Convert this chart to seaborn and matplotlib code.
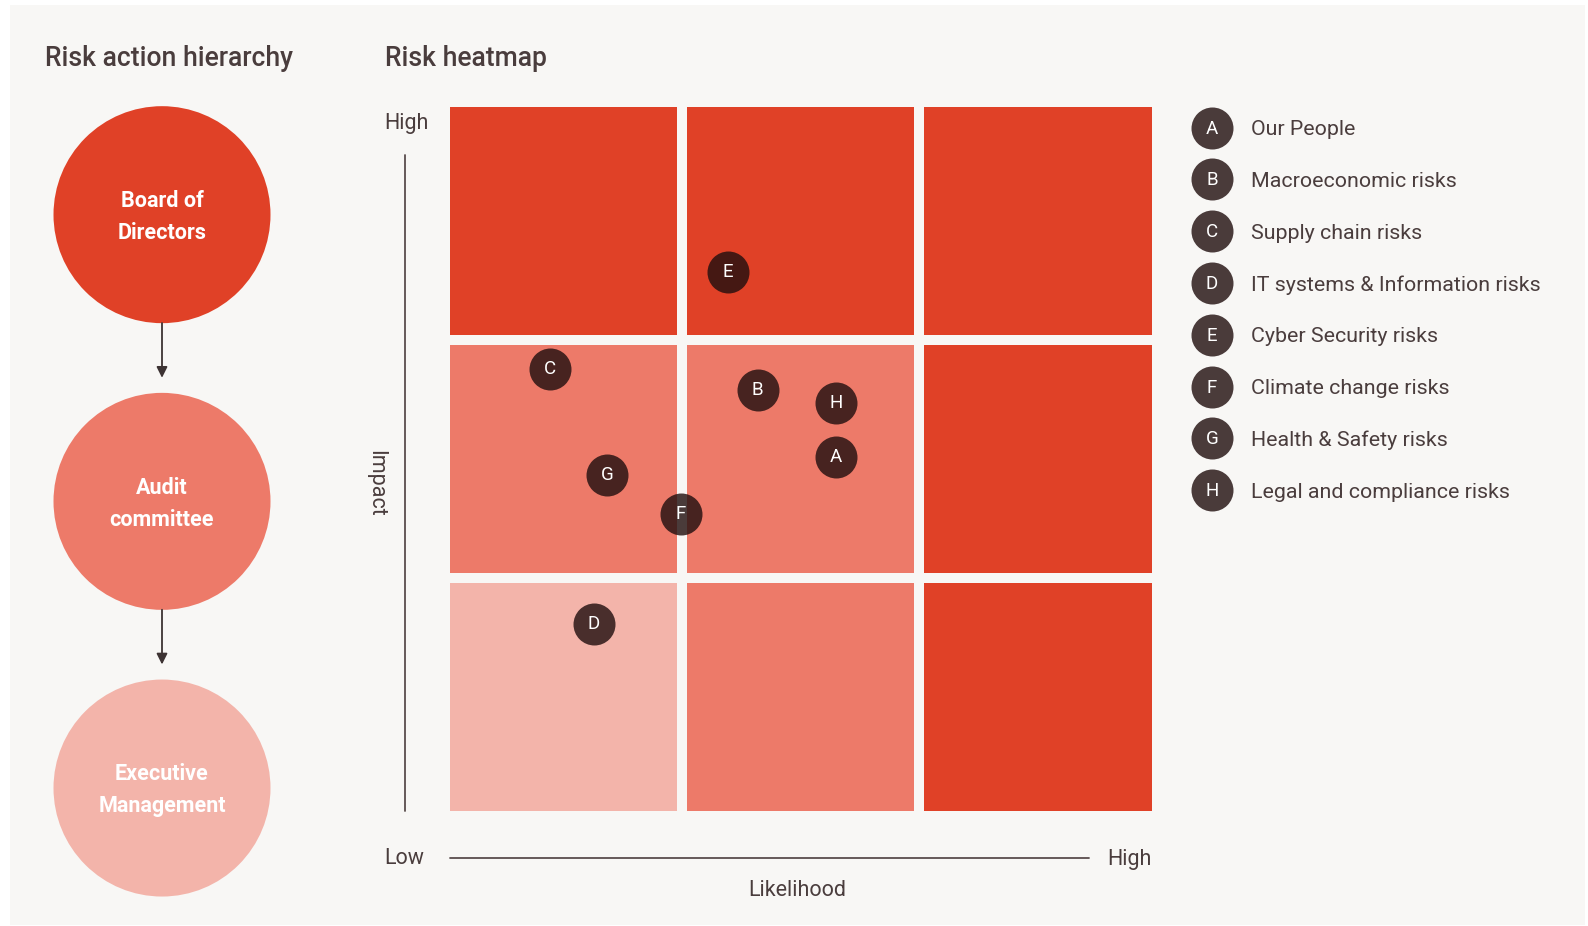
import numpy as np
import pandas as pd
import matplotlib
matplotlib.use("Agg")
import matplotlib.pyplot as plt
from matplotlib.colors import ListedColormap
from matplotlib.patches import Rectangle
import seaborn as sns

# ---------------- data ----------------
hierarchy = ["Board of\nDirectors", "Audit\ncommittee", "Executive\nManagement"]
hierarchy_level = [2, 1, 0]

# heat levels, rows from Low impact (bottom) to High impact (top); cols Low->High likelihood
grid_rows_low_to_high = [
    [0, 1, 2],
    [1, 1, 2],
    [2, 2, 2],
]

risk_codes = ["A", "B", "C", "D", "E", "F", "G", "H"]
risk_names = ["Our People", "Macroeconomic risks", "Supply chain risks",
              "IT systems & Information risks", "Cyber Security risks",
              "Climate change risks", "Health & Safety risks",
              "Legal and compliance risks"]
likelihood = [1.65, 1.32, 0.445, 0.63, 1.195, 0.997, 0.686, 1.65]
impact = [1.506, 1.788, 1.877, 0.805, 2.284, 1.268, 1.431, 1.734]

x_labels = ["Low", "High"]
y_labels = ["Low", "High"]

# ---------------- style ----------------
BG = "#f8f7f5"
LEVEL_COLORS = ["#f3b4aa", "#ed7a69", "#e04127"]
TEXT = "#4a3d3d"
MARK = "#210f0f"
MARK_ALPHA = 0.81

sns.set_theme(style="white")
plt.rcParams["font.family"] = ["Roboto", "DejaVu Sans"]

W, H = 1588, 926
fig = plt.figure(figsize=(W / 100, H / 100), dpi=100, facecolor="white")

def fx(px):
    return px / W

def fy(py):
    return 1 - py / H

def axes_px(left, top, right, bottom):
    return fig.add_axes([fx(left), fy(bottom), fx(right - left), (bottom - top) / H])

# background panel
fig.patches.append(Rectangle((fx(10), fy(925)), fx(1575), (925 - 5) / H,
                             transform=fig.transFigure, facecolor=BG,
                             edgecolor="none", zorder=-10))

# titles
fig.text(fx(45), fy(58), "Risk action hierarchy", fontsize=19.1, color=TEXT,
         va="center", ha="left", fontweight="medium")
fig.text(fx(385), fy(58), "Risk heatmap", fontsize=19.1, color=TEXT,
         va="center", ha="left", fontweight="medium")

# ---------------- hierarchy ----------------
axh = axes_px(0, 100, 324, 903)
axh.set_facecolor("none")
hdf = pd.DataFrame({"x": [0.5] * 3, "y": np.arange(3), "label": hierarchy,
                    "level": hierarchy_level})
sns.scatterplot(data=hdf, x="x", y="y", hue="level",
                palette={i: c for i, c in enumerate(LEVEL_COLORS)},
                s=(217 * 0.72) ** 2, linewidth=0, legend=False, ax=axh)
axh.set_xlim(0, 1)
axh.set_ylim(2.401, -0.400)
for i, lab in enumerate(hierarchy):
    axh.text(0.5, i + 0.008, lab, ha="center", va="center", color="white",
             fontsize=15.5, fontweight="bold", linespacing=1.6)
for i in range(2):
    axh.annotate("", xy=(0.5, i + 0.569), xytext=(0.5, i + 0.378),
                 arrowprops=dict(arrowstyle="-|>", color="#3d3333", lw=1.3,
                                 mutation_scale=16, shrinkA=0, shrinkB=0))
axh.axis("off")

# ---------------- heatmap ----------------
ax = axes_px(444.5, 101.5, 1156.5, 815.5)
mat = np.array(grid_rows_low_to_high)
sns.heatmap(mat, ax=ax, cmap=ListedColormap(LEVEL_COLORS), vmin=-0.5, vmax=2.5,
            cbar=False, linewidths=6.84, linecolor=BG, square=False,
            xticklabels=False, yticklabels=False)
ax.set_ylim(0, 3)
ax.set_xlim(0, 3)
rdf = pd.DataFrame({"code": risk_codes, "likelihood": likelihood, "impact": impact})
sns.scatterplot(data=rdf, x="likelihood", y="impact", ax=ax, color=MARK,
                alpha=MARK_ALPHA, s=(42 * 0.72) ** 2, linewidth=0, legend=False,
                zorder=5)
for c, xv, yv in zip(risk_codes, likelihood, impact):
    ax.text(xv, yv, c, ha="center", va="center", color="white", fontsize=13.5,
            zorder=6)
ax.set_xlabel("")
ax.set_ylabel("")
for s in ax.spines.values():
    s.set_visible(False)

# axis guides
fig.add_artist(plt.Line2D([fx(405), fx(405)], [fy(155), fy(811)],
                          color="#5a4d4d", lw=1.3))
fig.add_artist(plt.Line2D([fx(450), fx(1089)], [fy(858), fy(858)],
                          color="#5a4d4d", lw=1.3))
fig.text(fx(406), fy(123), y_labels[1], ha="center", va="center",
         fontsize=15.5, color=TEXT)
fig.text(fx(376), fy(483), "Impact", ha="center", va="center", rotation=270,
         fontsize=15.5, color=TEXT)
fig.text(fx(404), fy(859), x_labels[0], ha="center", va="center",
         fontsize=15.5, color=TEXT)
fig.text(fx(1152), fy(859), x_labels[1], ha="right", va="center",
         fontsize=15.5, color=TEXT)
fig.text(fx(797), fy(890), "Likelihood", ha="center", va="center",
         fontsize=15.5, color=TEXT)

# ---------------- legend ----------------
axl = axes_px(1180, 100, 1580, 520)
axl.set_facecolor("none")
ldf = pd.DataFrame({"x": [32] * len(risk_codes), "y": np.arange(len(risk_codes))})
sns.scatterplot(data=ldf, x="x", y="y", ax=axl, color=MARK, alpha=MARK_ALPHA,
                s=(42 * 0.72) ** 2, linewidth=0, legend=False)
axl.set_xlim(0, 400)
axl.set_ylim((520 - 127.6) / 51.8, (100 - 127.6) / 51.8)
for i, (c, n) in enumerate(zip(risk_codes, risk_names)):
    axl.text(32, i + 0.02, c, ha="center", va="center", color="white", fontsize=13.5)
    axl.text(71, i + 0.04, n, ha="left", va="center", color=TEXT, fontsize=15.4)
axl.axis("off")

fig.savefig("out.png", dpi=100, facecolor="white")
